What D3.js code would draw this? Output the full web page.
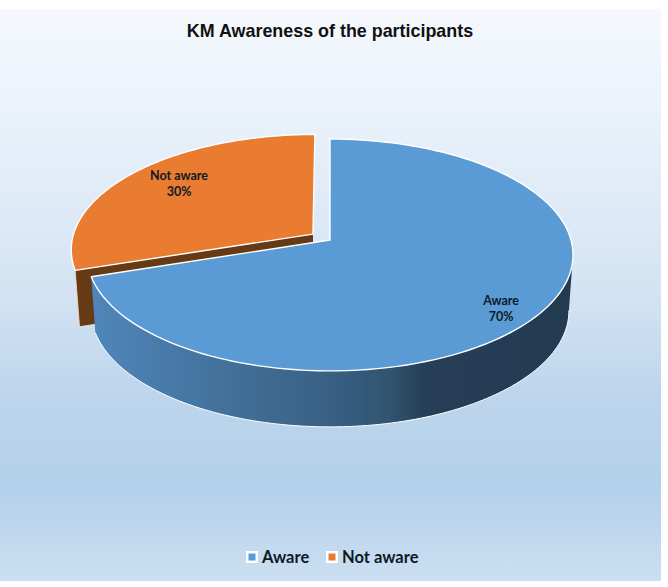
<!DOCTYPE html>
<html>
<head>
<meta charset="utf-8">
<script src="https://cdn.jsdelivr.net/npm/d3@7"></script>
<style>
html,body{margin:0;padding:0;background:#fff;}
svg{display:block;}
</style>
</head>
<body>
<svg id="chart" width="668" height="587"></svg>
<script>
const categories = ["Aware", "Not aware"];
const shares = [70, 30];
const sliceColors = ["#5b9bd5", "#e97c30"];
const titleText = "KM Awareness of the participants";

const svg = d3.select("#chart");
const defs = svg.append("defs");

// panel background
const bg = defs.append("linearGradient").attr("id", "panelFill")
  .attr("x1", 0).attr("y1", 0).attr("x2", 0).attr("y2", 1);
[[0, "#f5f9fd"], [0.2, "#e9f1fa"], [0.5, "#d3e3f3"], [0.68, "#bcd5ec"], [0.84, "#b4d0ea"], [1, "#cbdff1"]]
  .forEach(([o, c]) => bg.append("stop").attr("offset", o).attr("stop-color", c));
svg.append("rect").attr("x", 0).attr("y", 9).attr("width", 661).attr("height", 572)
  .attr("fill", "url(#panelFill)");

// tilted disc: unit-circle coordinates to screen through a mild perspective
const persp = 0.129;
const discX = d3.scaleLinear().domain([-1, 1]).range([330 - 241, 330 + 241]);
const discY = d3.scaleLinear().domain([-1, 1]).range([240 + 114, 240 - 114]);
const depth = 56, bottomShrink = 0.983, explode = 0.088;

function project(u, v, lower) {
  const w = 1 + persp * v;
  const px = u / w, py = v / w;
  const x = discX(lower ? px * bottomShrink : px);
  const y = discY(py) + (lower ? depth : 0);
  return [x, y];
}

const pie = d3.pie().sort(null).value(d => d)(shares);
const line = d3.line();
const ringPoint = (angle, off, lower) =>
  project(Math.sin(angle) + off[0], Math.cos(angle) + off[1], lower);
const ringPoints = (a0, a1, off, lower) =>
  d3.range(0, 121).map(i => ringPoint(a0 + (a1 - a0) * i / 120, off, lower));

const offsets = pie.map((p, i) => {
  if (i === 0) return [0, 0];
  const mid = (p.startAngle + p.endAngle) / 2;
  return [explode * Math.sin(mid), explode * Math.cos(mid)];
});

// cut face of the pulled-out slice
{
  const p = pie[1], off = offsets[1];
  const quad = [
    project(off[0], off[1], false),
    ringPoint(p.startAngle, off, false),
    ringPoint(p.startAngle, off, true),
    project(off[0], off[1], true)
  ];
  svg.append("path").attr("d", line(quad) + "Z").attr("fill", "#653a15");
  svg.append("path").attr("d", line([quad[1], quad[2]]))
    .attr("fill", "none").attr("stroke", "#f6d9c2").attr("stroke-width", 0.8);
}

// top of the pulled-out slice
{
  const p = pie[1], off = offsets[1];
  const pts = [project(off[0], off[1], false)].concat(ringPoints(p.startAngle, p.endAngle, off, false));
  svg.append("path").attr("d", line(pts) + "Z")
    .attr("fill", sliceColors[1]).attr("stroke", "#fff").attr("stroke-width", 1.4).attr("stroke-linejoin", "round");
}

// outer wall of the large slice
const wallGrad = defs.append("linearGradient").attr("id", "wallFill")
  .attr("gradientUnits", "userSpaceOnUse").attr("x1", 91).attr("x2", 573).attr("y1", 0).attr("y2", 0);
[[0, "#4f86ba"], [0.25, "#44739e"], [0.5, "#386084"], [0.62, "#31546f"], [0.69, "#263f57"], [1, "#233b51"]]
  .forEach(([o, c]) => wallGrad.append("stop").attr("offset", o).attr("stop-color", c));
{
  const p = pie[0];
  const wallStart = Math.PI * 0.54;
  const upper = ringPoints(wallStart, p.endAngle, [0, 0], false);
  const lower = ringPoints(wallStart, p.endAngle, [0, 0], true).reverse();
  svg.append("path").attr("d", line(upper.concat(lower)) + "Z").attr("fill", "url(#wallFill)");
  svg.append("path").attr("d", line(lower)).attr("fill", "none").attr("stroke", "#fff").attr("stroke-width", 1);
}

// top of the large slice
{
  const p = pie[0];
  const pts = [project(0, 0, false)].concat(ringPoints(p.startAngle, p.endAngle, [0, 0], false));
  svg.append("path").attr("d", line(pts) + "Z")
    .attr("fill", sliceColors[0]).attr("stroke", "#fff").attr("stroke-width", 1.4).attr("stroke-linejoin", "round");
}

// slice labels, placed at a polar position on each slice top
const labelFont = "Lato, 'Open Sans', sans-serif";
const labelAngle = [2.247, 5.419], labelRadius = [0.848, 0.79];
pie.forEach((p, i) => {
  const a = labelAngle[i], off = offsets[i];
  const [x, y] = project(Math.sin(a) * labelRadius[i] + off[0], Math.cos(a) * labelRadius[i] + off[1], false);
  const t = svg.append("text").attr("text-anchor", "middle")
    .attr("font-family", labelFont).attr("font-weight", 700).attr("font-size", 12.5).attr("fill", "#0d1a26");
  t.append("tspan").attr("x", x).attr("y", y).text(categories[i]);
  t.append("tspan").attr("x", x).attr("y", y + 16).text(p.value + "%");
});

// title
svg.append("text").attr("x", 330).attr("y", 37).attr("text-anchor", "middle")
  .attr("font-family", "'Liberation Sans', Arial, sans-serif").attr("font-weight", 700)
  .attr("font-size", 17.9).attr("fill", "#111").text(titleText);

// legend
const legendSwatch = [246, 326], legendText = [262, 342];
categories.forEach((c, i) => {
  svg.append("rect").attr("x", legendSwatch[i]).attr("y", 551).attr("width", 12).attr("height", 12)
    .attr("fill", "#fff");
  svg.append("rect").attr("x", legendSwatch[i] + 2.5).attr("y", 553.5).attr("width", 7).attr("height", 7)
    .attr("fill", sliceColors[i]);
  svg.append("text").attr("x", legendText[i]).attr("y", 563)
    .attr("font-family", labelFont).attr("font-weight", 700).attr("font-size", 16.5)
    .attr("fill", "#0d1a26").text(c);
});
</script>
</body>
</html>
